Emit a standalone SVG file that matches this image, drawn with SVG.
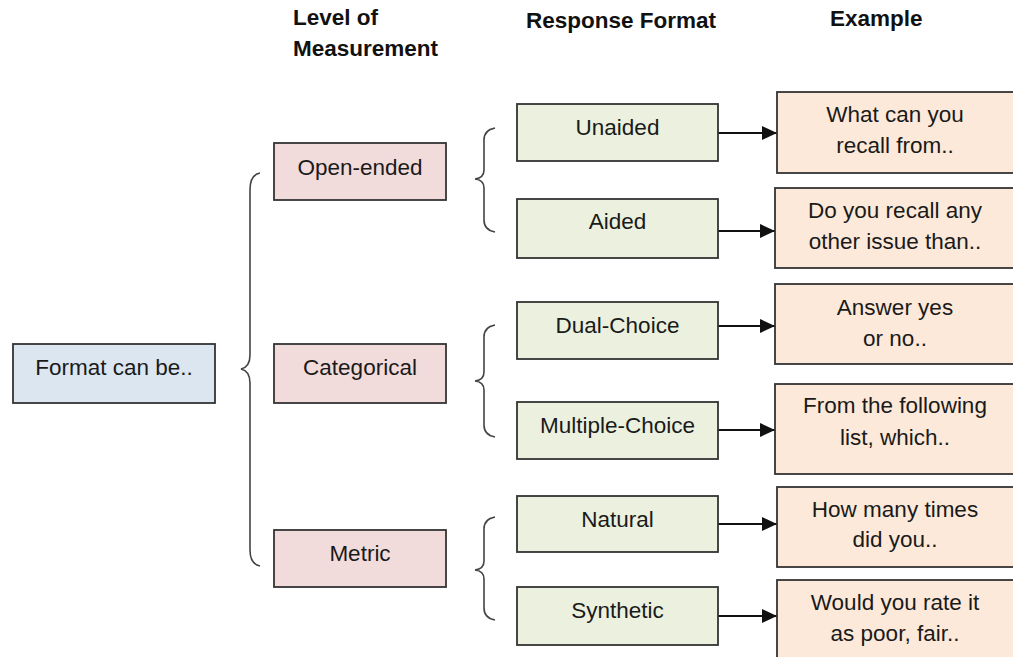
<svg xmlns="http://www.w3.org/2000/svg" width="1013" height="657" viewBox="0 0 1013 657">
<defs>
<style>
.hdr{font-family:"Liberation Sans",Arial,sans-serif;font-weight:bold;font-size:22.5px;fill:#111}
.t{font-family:"Liberation Sans",Arial,sans-serif;font-size:22.5px;fill:#1a1a1a;text-anchor:middle}
.box{stroke:#333;stroke-width:1.8}
.blue{fill:#dce6f1}
.pink{fill:#f2dcdb}
.green{fill:#ebf1de}
.orange{fill:#fde9d9}
.brace{fill:none;stroke:#444;stroke-width:1.6}
.conn{stroke:#111;stroke-width:2;fill:none}
</style>
<marker id="arr" markerWidth="16" markerHeight="16" refX="15" refY="7" orient="auto" markerUnits="userSpaceOnUse" viewBox="0 0 16 14">
<path d="M0,0 L15,7 L0,14 Z" fill="#111"/>
</marker>
</defs>
<rect width="1013" height="657" fill="#fff"/>
<g id="headers">
<text class="hdr" x="293" y="25">Level of</text>
<text class="hdr" x="293" y="56">Measurement</text>
<text class="hdr" x="526" y="28">Response Format</text>
<text class="hdr" x="830" y="26">Example</text>
</g>
<g id="braces">
<path class="brace" d="M260,173 Q250,175 250,190 L250,355 Q250,367 241,369 Q250,371 250,383 L250,550 Q250,564 260,566"/>
<path class="brace" d="M495,128 Q484,130 484,140 L484,170 Q484,178 475,179 Q484,180 484,188 L484,220 Q484,230 495,232"/>
<path class="brace" d="M495,325 Q484,327 484,337 L484,372 Q484,380 475,381 Q484,382 484,390 L484,425 Q484,435 495,437"/>
<path class="brace" d="M495,517 Q484,519 484,529 L484,561 Q484,569 475,570 Q484,571 484,579 L484,608 Q484,618 495,620"/>
</g>
<g id="connectors">
<line class="conn" x1="718" y1="133" x2="777" y2="133" marker-end="url(#arr)"/>
<line class="conn" x1="718" y1="231" x2="775" y2="231" marker-end="url(#arr)"/>
<line class="conn" x1="718" y1="326" x2="775" y2="326" marker-end="url(#arr)"/>
<line class="conn" x1="718" y1="430" x2="775" y2="430" marker-end="url(#arr)"/>
<line class="conn" x1="718" y1="524" x2="777" y2="524" marker-end="url(#arr)"/>
<line class="conn" x1="718" y1="616" x2="777" y2="616" marker-end="url(#arr)"/>
</g>
<g id="format"><rect class="box blue" x="13" y="344" width="202" height="59"/><text class="t" x="114" y="375">Format can be..</text></g>
<g id="open-ended"><rect class="box pink" x="274" y="143" width="172" height="57"/><text class="t" x="360" y="175">Open-ended</text></g>
<g id="categorical"><rect class="box pink" x="274" y="344" width="172" height="59"/><text class="t" x="360" y="375">Categorical</text></g>
<g id="metric"><rect class="box pink" x="274" y="530" width="172" height="57"/><text class="t" x="360" y="561">Metric</text></g>
<g id="unaided"><rect class="box green" x="517" y="104" width="201" height="57"/><text class="t" x="617.5" y="135">Unaided</text></g>
<g id="aided"><rect class="box green" x="517" y="199" width="201" height="59"/><text class="t" x="617.5" y="229">Aided</text></g>
<g id="dual-choice"><rect class="box green" x="517" y="302" width="201" height="57"/><text class="t" x="617.5" y="333">Dual-Choice</text></g>
<g id="multiple-choice"><rect class="box green" x="517" y="402" width="201" height="57"/><text class="t" x="617.5" y="433">Multiple-Choice</text></g>
<g id="natural"><rect class="box green" x="517" y="496" width="201" height="56"/><text class="t" x="617.5" y="527">Natural</text></g>
<g id="synthetic"><rect class="box green" x="517" y="587" width="201" height="58"/><text class="t" x="617.5" y="618">Synthetic</text></g>
<g id="ex-unaided"><rect class="box orange" x="777" y="92" width="240" height="81"/><text class="t" x="895" y="122">What can you</text><text class="t" x="895" y="153">recall from..</text></g>
<g id="ex-aided"><rect class="box orange" x="775" y="188" width="242" height="80"/><text class="t" x="895" y="218">Do you recall any</text><text class="t" x="895" y="249">other issue than..</text></g>
<g id="ex-dual"><rect class="box orange" x="775" y="284" width="242" height="80"/><text class="t" x="895" y="315">Answer yes</text><text class="t" x="895" y="346">or no..</text></g>
<g id="ex-multiple"><rect class="box orange" x="775" y="384" width="242" height="90"/><text class="t" x="895" y="413">From the following</text><text class="t" x="895" y="445">list, which..</text></g>
<g id="ex-natural"><rect class="box orange" x="777" y="487" width="240" height="80"/><text class="t" x="895" y="517">How many times</text><text class="t" x="895" y="547">did you..</text></g>
<g id="ex-synthetic"><rect class="box orange" x="777" y="580" width="240" height="85"/><text class="t" x="895" y="610">Would you rate it</text><text class="t" x="895" y="641">as poor, fair..</text></g>
</svg>
